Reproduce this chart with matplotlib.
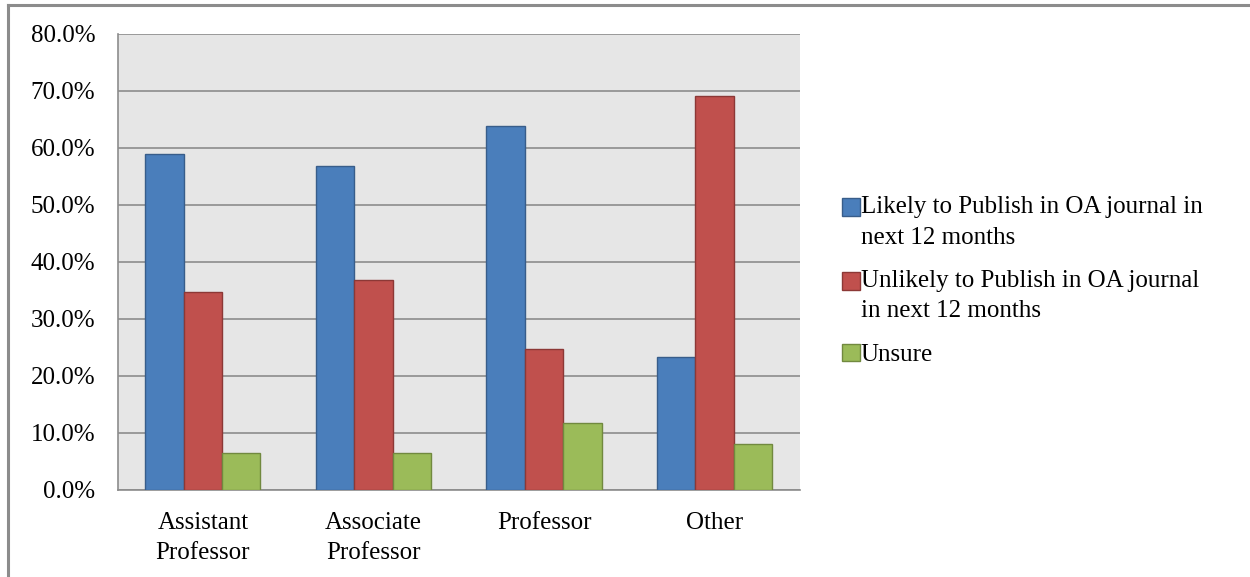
import matplotlib
matplotlib.use("Agg")
import matplotlib.pyplot as plt
from matplotlib.lines import Line2D
from matplotlib.patches import Rectangle
from matplotlib.legend_handler import HandlerPatch
import numpy as np

plt.rcParams['font.family'] = ['Liberation Serif', 'DejaVu Serif']

# data
categories = ["Assistant\nProfessor", "Associate\nProfessor", "Professor", "Other"]
likely = [58.8, 56.8, 63.8, 23.2]
unlikely = [34.7, 36.8, 24.6, 69.1]
unsure = [6.4, 6.4, 11.7, 7.9]
series_names = ["Likely to Publish in OA journal in\nnext 12 months",
                "Unlikely to Publish in OA journal\nin next 12 months",
                "Unsure"]
yticks = [0, 10, 20, 30, 40, 50, 60, 70, 80]

fills = ["#4A7EBB", "#C0504D", "#9BBB59"]
edges = ["#385D8A", "#8C3836", "#71893F"]

W, H, DPI = 1250, 577, 100
fig = plt.figure(figsize=(W / DPI, H / DPI), dpi=DPI)
ax = fig.add_axes([117.5 / W, 1 - 489.5 / H, (800 - 117.5) / W, (489.5 - 33.5) / H])
ax.set_facecolor("#E6E6E6")

x = np.arange(len(categories))
bw = 0.225
handles = []
for i, (vals, name) in enumerate(zip([likely, unlikely, unsure], series_names)):
    b = ax.bar(x + (i - 1) * bw, vals, width=bw, color=fills[i], edgecolor=edges[i],
               linewidth=1, label=name, zorder=3)
    handles.append(b.patches[0])

ax.set_xlim(-0.5, len(categories) - 0.5)
ax.set_ylim(0, 80)
ax.set_yticks(yticks)
ax.set_yticklabels([f"{v:.1f}%" for v in yticks])
ax.set_xticks(x)
ax.set_xticklabels(categories, linespacing=1.5)
ax.yaxis.grid(True, color="#8C8C8C", linewidth=1.2, zorder=0)
ax.set_axisbelow(True)
ax.tick_params(axis="y", length=0, pad=16, labelsize=18)
ax.tick_params(axis="x", length=0, pad=16, labelsize=18)

for s in ["top", "right"]:
    ax.spines[s].set_visible(False)
for s in ["left", "bottom"]:
    ax.spines[s].set_color("#8C8C8C")
    ax.spines[s].set_linewidth(1.2)
ax.spines["left"].set_zorder(4)


# legend square sits on the first line of a wrapped label
def make_handler(nlines):
    shift = 10.8 * (nlines - 1)

    def patch_func(legend, orig_handle, xdescent, ydescent, width, height, fontsize):
        return Rectangle((-xdescent, -ydescent + shift), width, height)
    return HandlerPatch(patch_func=patch_func)


hmap = {h: make_handler(n.count("\n") + 1) for h, n in zip(handles, series_names)}
leg = ax.legend(handles=handles, labels=series_names, handler_map=hmap,
                loc="center left", bbox_to_anchor=(832 / W, 1 - 281 / H),
                bbox_transform=fig.transFigure, frameon=False, fontsize=18,
                handlelength=0.7, handleheight=0.7, handletextpad=0.05,
                labelspacing=0.85, borderaxespad=0)
for t in leg.get_texts():
    t.set_linespacing(1.5)

# chart area border (top and left visible)
fig.add_artist(Line2D([8 / W, 1], [1 - 5 / H, 1 - 5 / H], color="#8C8C8C",
                      linewidth=2.2, transform=fig.transFigure))
fig.add_artist(Line2D([8 / W, 8 / W], [0, 1 - 5 / H], color="#8C8C8C",
                      linewidth=2.2, transform=fig.transFigure))

fig.savefig("out.png", dpi=DPI)
